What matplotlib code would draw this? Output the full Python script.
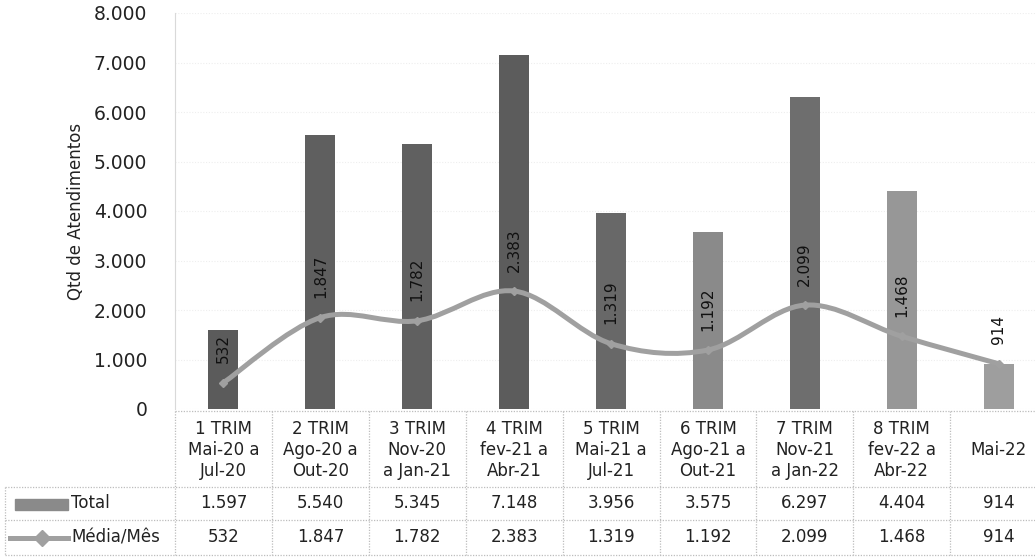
import numpy as np
import matplotlib.pyplot as plt
from matplotlib.path import Path
from matplotlib.patches import PathPatch, Rectangle
from matplotlib.lines import Line2D

plt.rcParams['font.family'] = ['DejaVu Sans']

categories = ['1 TRIM\nMai-20 a\nJul-20', '2 TRIM\nAgo-20 a\nOut-20',
              '3 TRIM\nNov-20\na Jan-21', '4 TRIM\nfev-21 a\nAbr-21',
              '5 TRIM\nMai-21 a\nJul-21', '6 TRIM\nAgo-21 a\nOut-21',
              '7 TRIM\nNov-21\na Jan-22', '8 TRIM\nfev-22 a\nAbr-22',
              'Mai-22']
total = [1597, 5540, 5345, 7148, 3956, 3575, 6297, 4404, 914]
media = [532, 1847, 1782, 2383, 1319, 1192, 2099, 1468, 914]
series_names = ['Total', 'Média/Mês']
y_ticks = [0, 1000, 2000, 3000, 4000, 5000, 6000, 7000, 8000]

bar_colors = ['#5b5b5b', '#5f5f5f', '#606060', '#5c5c5c', '#686868',
              '#8a8a8a', '#6e6e6e', '#979797', '#9e9e9e']
line_color = '#a0a0a0'
grid_color = '#d9d9d9'


def fmt(v):
    return f'{v:,}'.replace(',', '.')


W, H = 1035, 557
fig = plt.figure(figsize=(W / 100, H / 100), dpi=100)

# plot area in pixels
x0, col_w, n = 175, 96.9, len(categories)
y_zero, y_top = 409, 13
ax = fig.add_axes([x0 / W, 1 - y_zero / H, n * col_w / W, (y_zero - y_top) / H])
ax.set_xlim(-0.5, n - 0.5)
ax.set_ylim(0, 8000)

xs = np.arange(n)
ax.bar(xs, total, width=0.31, color=bar_colors, zorder=2)

# smoothed line through the monthly averages (Catmull-Rom as cubic Bezier)
pts = np.column_stack([xs, media]).astype(float)
verts = [tuple(pts[0])]
codes = [Path.MOVETO]
for i in range(n - 1):
    p0 = pts[i - 1] if i > 0 else pts[i]
    p1, p2 = pts[i], pts[i + 1]
    p3 = pts[i + 2] if i + 2 < n else pts[i + 1]
    c1 = p1 + (p2 - p0) / 6
    c2 = p2 - (p3 - p1) / 6
    verts += [tuple(c1), tuple(c2), tuple(p2)]
    codes += [Path.CURVE4] * 3
ax.add_patch(PathPatch(Path(verts, codes), fill=False, ec=line_color,
                       lw=3.6, capstyle='round', zorder=3))
ax.plot(xs, media, ls='none', marker='D', ms=4.5, color=line_color, zorder=4)

for x, v in zip(xs, media):
    ax.annotate(fmt(v), (x, v), xytext=(0, 14), textcoords='offset points',
                rotation=90, ha='center', va='bottom', fontsize=11,
                color='#111111', zorder=5)

ax.set_yticks(y_ticks)
ax.set_yticklabels([fmt(t) for t in y_ticks], fontsize=13.5, color='#222222')
ax.tick_params(axis='y', length=0, pad=20)
ax.set_xticks([])
ax.set_ylabel('Qtd de Atendimentos', fontsize=12, color='#222222', labelpad=6)
ax.yaxis.grid(True, color='#eeeeee', lw=0.8, ls=(0, (1, 1.5)), zorder=0)
for s in ['top', 'right', 'bottom']:
    ax.spines[s].set_visible(False)
ax.spines['left'].set_color(grid_color)
ax.spines['left'].set_linestyle((0, (1, 1)))
ax.spines['left'].set_linewidth(0.8)

# data table under the chart, drawn in pixel coordinates
tab = fig.add_axes([0, 0, 1, 1], zorder=-1)
tab.set_xlim(0, W)
tab.set_ylim(H, 0)
tab.axis('off')

row_lines = [411, 487, 520, 555]
col_edges = [x0 + i * col_w for i in range(n + 1)]
dot = dict(color='#bdbdbd', lw=0.9, ls=(0, (1, 1.2)))
tab.plot([x0, W], [row_lines[0]] * 2, **dot)
for yl in row_lines[1:]:
    tab.plot([5, W], [yl, yl], **dot)
for xe in col_edges:
    tab.plot([xe, xe], [row_lines[0], row_lines[-1]], **dot)
tab.plot([5, 5], [row_lines[1], row_lines[-1]], **dot)

row_mid = [(row_lines[i] + row_lines[i + 1]) / 2 for i in range(3)]
for i in range(n):
    cx = x0 + (i + 0.5) * col_w
    tab.text(cx, row_mid[0] + 1, categories[i], ha='center', va='center',
             fontsize=12, color='#222222', linespacing=1.22)
    tab.text(cx, row_mid[1], fmt(total[i]), ha='center', va='center',
             fontsize=12, color='#222222')
    tab.text(cx, row_mid[2], fmt(media[i]), ha='center', va='center',
             fontsize=12, color='#222222')

# legend keys in the first column
tab.add_patch(Rectangle((15, row_mid[1] - 5), 53, 11, color=bar_colors[5]))
tab.add_line(Line2D([10, 68], [row_mid[2]] * 2, color=line_color, lw=3.6))
tab.add_line(Line2D([42], [row_mid[2]], marker='D', ms=8, color=line_color))
for k, name in enumerate(series_names):
    tab.text(71, row_mid[k + 1], name, ha='left', va='center',
             fontsize=12, color='#222222')

fig.savefig('out.png', dpi=100)
